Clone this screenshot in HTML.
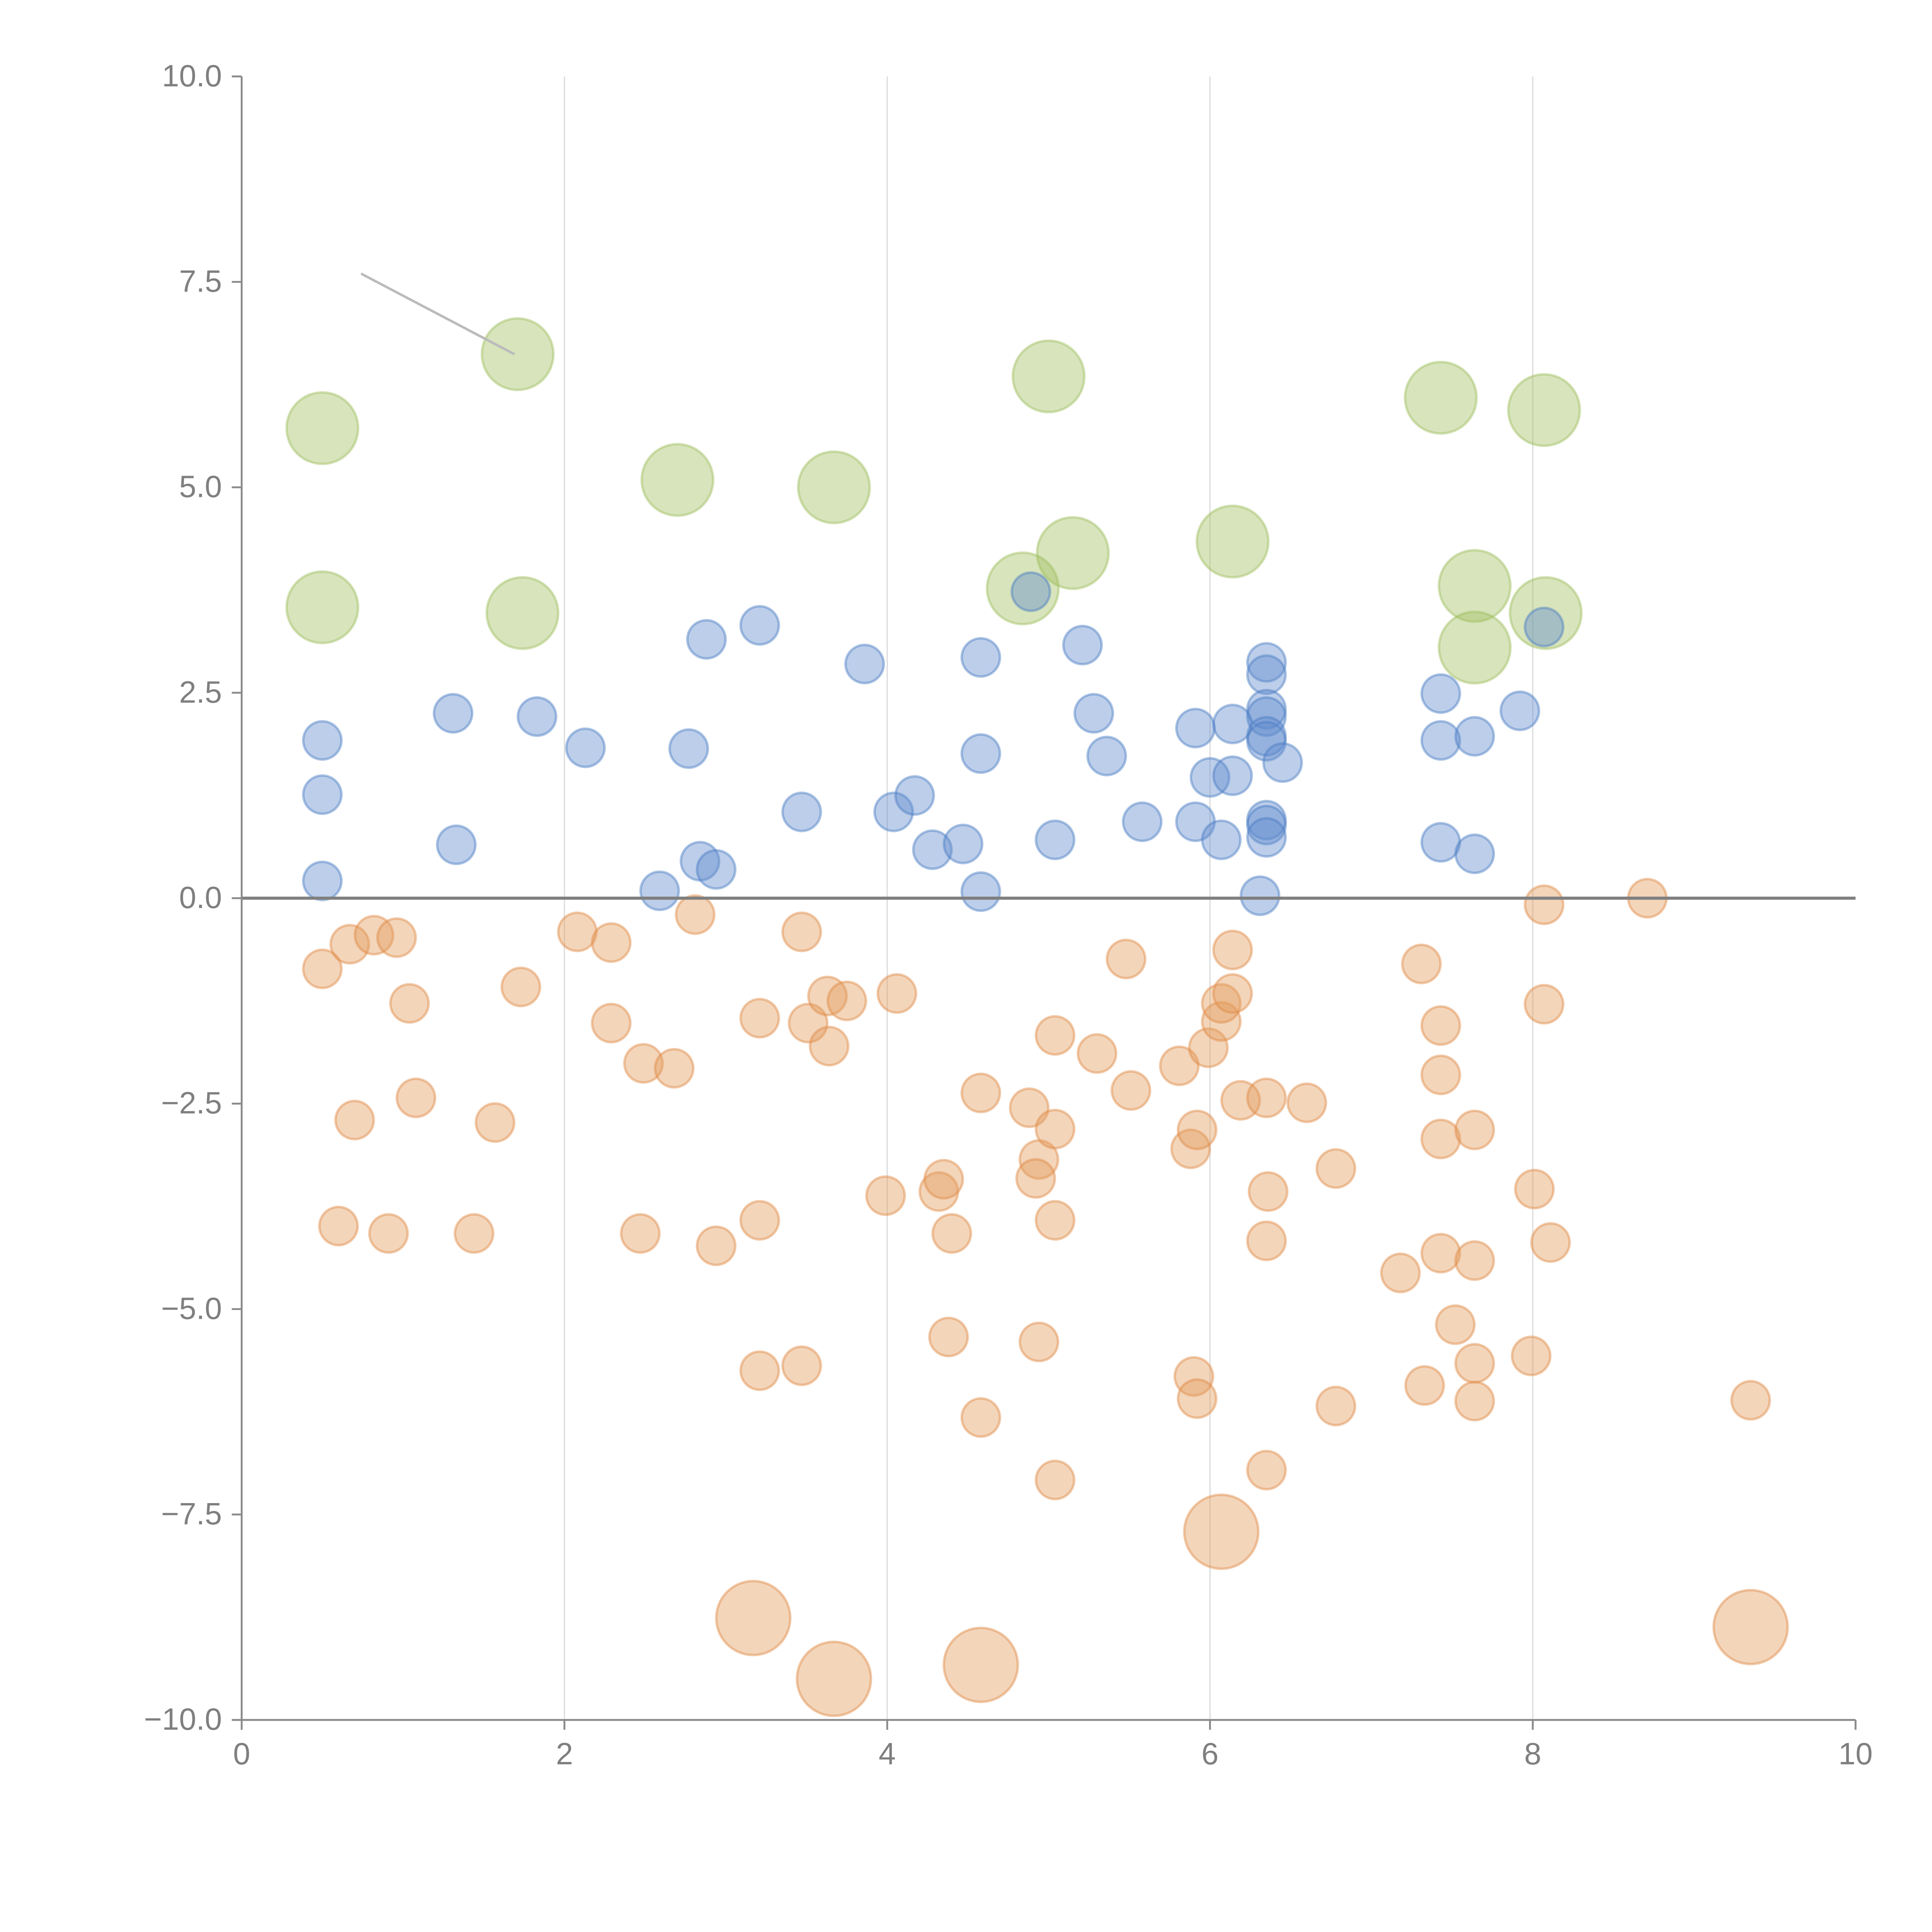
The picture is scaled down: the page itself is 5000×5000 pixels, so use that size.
<!DOCTYPE html>
<html><head><meta charset="utf-8"><style>
html,body{margin:0;padding:0;background:#fff;}
svg{display:block;}
text{font-family:"Liberation Sans",sans-serif;fill:#7f7f7f;}
</style></head><body>
<svg id="chart" width="5000" height="5000" viewBox="0 0 1567 1567" xmlns="http://www.w3.org/2000/svg">
<g id="grid"></g>
<g id="marks"></g>
<g id="axes"></g>
</svg>
<script>
const xTicks=[0,2,4,6,8,10];
const yTicks=[10,7.5,5,2.5,0,-2.5,-5,-7.5,-10];
const yTickLabels=["10.0","7.5","5.0","2.5","0.0","\u22122.5","\u22125.0","\u22127.5","\u221210.0"];
const blueX=[0.50,0.50,0.50,1.31,1.33,1.83,2.13,2.59,2.77,2.84,2.88,2.94,3.21,3.47,3.86,4.04,4.17,4.28,4.47,4.58,4.58,4.58,4.89,5.04,5.21,5.28,5.36,5.58,5.91,5.91,6.00,6.07,6.14,6.14,6.31,6.35,6.35,6.35,6.35,6.35,6.35,6.35,6.35,6.35,6.45,7.43,7.43,7.43,7.64,7.64,7.92,8.07];
const blueY=[1.92,1.26,0.21,2.25,0.65,2.21,1.83,0.09,1.82,0.45,3.15,0.35,3.32,1.05,2.85,1.05,1.25,0.59,0.66,2.93,1.76,0.08,3.73,0.71,3.08,2.25,1.73,0.93,2.07,0.93,1.47,0.71,2.12,1.49,0.03,2.87,2.72,2.30,2.21,1.97,1.91,0.95,0.89,0.74,1.65,2.49,1.92,0.68,1.97,0.54,2.28,3.30];
const orangeX=[0.50,0.67,0.82,0.96,1.04,1.08,0.70,0.60,0.91,1.44,1.57,1.73,2.08,2.29,2.29,2.49,2.68,2.47,2.94,2.81,3.21,3.21,3.21,3.47,3.47,3.51,3.63,3.64,3.75,3.99,4.06,4.32,4.35,4.40,4.38,4.58,4.58,4.88,4.94,4.92,5.04,5.04,5.04,4.94,5.04,5.30,5.48,5.51,5.81,5.88,5.92,5.90,5.92,5.99,6.07,6.07,6.14,6.14,6.19,6.35,6.36,6.35,6.35,6.60,6.78,6.78,7.18,7.31,7.33,7.43,7.43,7.43,7.43,7.52,7.64,7.64,7.64,7.64,7.99,8.01,8.07,8.07,8.11,8.71,9.35];
const orangeY=[-0.86,-0.56,-0.45,-0.48,-1.28,-2.43,-2.70,-3.99,-4.08,-4.08,-2.73,-1.08,-0.41,-0.54,-1.52,-2.01,-2.07,-4.08,-4.23,-0.20,-1.46,-3.92,-5.75,-5.69,-0.41,-1.52,-1.19,-1.80,-1.25,-3.62,-1.16,-3.57,-3.42,-4.08,-5.34,-2.37,-6.32,-2.55,-3.18,-3.41,-1.67,-2.81,-3.92,-5.40,-7.08,-1.89,-0.74,-2.34,-2.04,-3.05,-2.82,-5.82,-6.09,-1.82,-1.50,-1.28,-1.16,-0.63,-2.46,-2.43,-3.57,-4.17,-6.96,-2.49,-3.29,-6.18,-4.56,-0.80,-5.93,-1.55,-2.15,-2.93,-4.32,-5.19,-2.82,-4.41,-5.66,-6.12,-5.57,-3.54,-0.08,-1.29,-4.19,0.00,-6.11];
const orangeLargeX=[3.17,3.67,4.58,6.07,9.35];
const orangeLargeY=[-8.76,-9.50,-9.33,-7.71,-8.87];
const greenX=[0.50,0.50,1.71,1.74,2.70,3.67,4.84,5.00,5.15,6.14,7.43,7.64,7.64,8.07,8.08];
const greenY=[5.72,3.54,6.62,3.47,5.09,5.00,3.77,6.35,4.20,4.34,6.09,3.80,3.05,5.94,3.47];

const NS="http://www.w3.org/2000/svg";
const X0=196,X1=1505,Y0=1395,Y1=62;
function sx(v){return X0+(v-0)/(10-0)*(X1-X0);}
function sy(v){return Y0-(v+10)/20*(Y0-Y1);}
function mk(tag,attrs,parent){const e=document.createElementNS(NS,tag);for(const k in attrs)e.setAttribute(k,attrs[k]);parent.appendChild(e);return e;}
const grid=document.getElementById('grid'),marks=document.getElementById('marks'),axes=document.getElementById('axes');
xTicks.forEach(t=>{if(t>0&&t<10){const l=mk('line',{x1:sx(t),x2:sx(t),y1:Y1,y2:Y0,stroke:'#dcdcdc','stroke-width':1},grid);

}});
function series(xs,ys,r,fill,stroke,name){xs.forEach((x,i)=>{const c=mk('circle',{cx:sx(x),cy:sy(ys[i]),r:r,fill:fill,'fill-opacity':0.42,stroke:stroke,'stroke-opacity':0.45,'stroke-width':2},marks);

});}
series(greenX,greenY,29,'#9fbf5f','#9fbf5f','green-bubble');
series(orangeX,orangeY,15.5,'#e39a5a','#e08a45','orange-bubble');
series(orangeLargeX,orangeLargeY,30,'#e39a5a','#e08a45','orange-large-bubble');
series(blueX,blueY,15.5,'#5f8ace','#4a7cc4','blue-bubble');
const ann=mk('line',{x1:sx(0.74),y1:sy(7.6),x2:sx(1.69),y2:sy(6.62),stroke:'#bbbbbb','stroke-width':2},marks);


const zl=mk('line',{x1:X0,x2:X1,y1:sy(0),y2:sy(0),stroke:'#7f7f7f','stroke-width':2.5},axes);


const ya=mk('line',{x1:X0,x2:X0,y1:Y1,y2:Y0,stroke:'#8a8a8a','stroke-width':1.5},axes);


const xa=mk('line',{x1:X0,x2:X1,y1:Y0,y2:Y0,stroke:'#8a8a8a','stroke-width':1.5},axes);


yTicks.forEach((t,i)=>{mk('line',{x1:X0-8,x2:X0,y1:sy(t),y2:sy(t),stroke:'#8a8a8a','stroke-width':1.5},axes);
const tx=mk('text',{x:X0-16,y:sy(t)+8,'text-anchor':'end','font-size':25},axes);tx.textContent=yTickLabels[i];

});
xTicks.forEach(t=>{mk('line',{x1:sx(t),x2:sx(t),y1:Y0,y2:Y0+8,stroke:'#8a8a8a','stroke-width':1.5},axes);
const tx=mk('text',{x:sx(t),y:Y0+36,'text-anchor':'middle','font-size':25},axes);tx.textContent=String(t);

});
</script>
</body></html>
